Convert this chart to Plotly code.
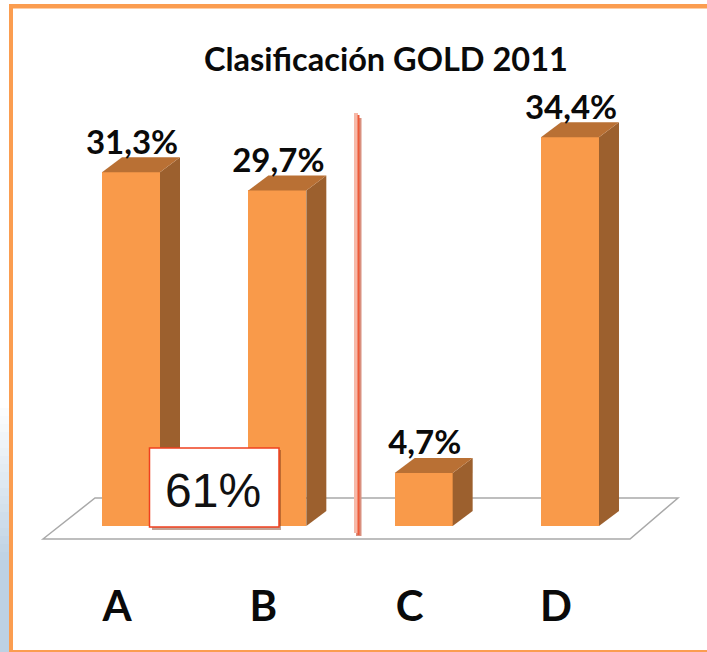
import plotly.graph_objects as go

# ---- data ----
categories = ["A", "B", "C", "D"]
values = [31.3, 29.7, 4.7, 34.4]
title_text = "Clasificación GOLD 2011"
group_text = "61%"

# ---- canvas / scale ----
W, H = 707, 652
PX_X = 146.33          # pixels per category
PX_Y = 11.3            # pixels per percentage point
X0 = 131               # pixel of first category
Y0 = 526               # pixel of value 0
AXIS_BOTTOM = 578      # pixel at the bottom of the plot area


def dx(px):
    return (px - X0) / PX_X


def dy(py):
    return (Y0 - py) / PX_Y


BAR_W = 58 / PX_X
DEPTH_X = 20 / PX_X
DEPTH_Y = 15 / PX_Y
LABEL_SHIFT = 14 / PX_X
LABEL_DROP = 4.5 / PX_Y

ORANGE = "#F99A4A"
SIDE = "#9C602E"
TOP = "#B97034"
BORDER = "#FB9D50"

fig = go.Figure()

# 3D side and top faces, derived from the values
for i, v in enumerate(values):
    l, r = i - BAR_W / 2, i + BAR_W / 2
    fig.add_trace(go.Scatter(
        x=[r, r + DEPTH_X, r + DEPTH_X, r, r],
        y=[0, DEPTH_Y, v + DEPTH_Y, v, 0],
        mode="lines", fill="toself", fillcolor=SIDE, line=dict(width=0),
        hoverinfo="skip", showlegend=False))
    fig.add_trace(go.Scatter(
        x=[l, l + DEPTH_X, r + DEPTH_X, r, l],
        y=[v, v + DEPTH_Y, v + DEPTH_Y, v, v],
        mode="lines", fill="toself", fillcolor=TOP, line=dict(width=0),
        hoverinfo="skip", showlegend=False))

# front faces
fig.add_trace(go.Bar(
    x=list(range(len(categories))), y=values, width=BAR_W,
    marker=dict(color=ORANGE, line=dict(width=0)),
    showlegend=False, hoverinfo="skip"))

# value labels
fig.add_trace(go.Scatter(
    x=[i + 1 / PX_X for i in range(len(values))],
    y=[v + DEPTH_Y - LABEL_DROP for v in values],
    mode="text",
    text=[f"{v:.1f}%".replace(".", ",") for v in values],
    textposition="top center",
    textfont=dict(family="Lato", size=33, color="#0a0a0a", weight="bold"),
    showlegend=False, hoverinfo="skip"))

shapes = []
# floor
shapes.append(dict(
    type="path", xref="x", yref="y", layer="below",
    path=f"M {dx(43)} {dy(539)} L {dx(95)} {dy(498)} L {dx(678)} {dy(498)} L {dx(630)} {dy(539)} Z",
    line=dict(color="#A9A9A9", width=1.5), fillcolor="white"))

# left gradient strip (paper coordinates): white, fading to pale blue low down
STEP = 8
for top in range(400, H, STEP):
    t = min(1.0, (top - 400) / 160)
    c = (int(255 - 66 * t), int(255 - 46 * t), int(255 - 28 * t))
    shapes.append(dict(
        type="rect", xref="paper", yref="paper", layer="below",
        x0=0, x1=9 / W, y0=1 - min(top + STEP, H) / H, y1=1 - top / H,
        fillcolor=f"rgb{c}", line=dict(width=0)))

# outer border: top, left, bottom
for x0, x1, y0, y1 in [(9, W, 4, 8.5), (9, 13, 4, H), (9, W, 650, H)]:
    shapes.append(dict(
        type="rect", xref="paper", yref="paper", layer="above",
        x0=x0 / W, x1=x1 / W, y0=1 - y1 / H, y1=1 - y0 / H,
        fillcolor=BORDER, line=dict(width=0)))

# divider
shapes.append(dict(type="rect", xref="x", yref="y", layer="above",
                   x0=dx(356), x1=dx(361.5), y0=dy(536), y1=dy(118),
                   fillcolor="#D9907F", line=dict(width=0)))
shapes.append(dict(type="rect", xref="x", yref="y", layer="above",
                   x0=dx(354), x1=dx(358), y0=dy(533), y1=dy(113),
                   fillcolor="#F7B9A8", line=dict(width=0)))
shapes.append(dict(type="rect", xref="x", yref="y", layer="above",
                   x0=dx(357.5), x1=dx(359.5), y0=dy(535), y1=dy(115),
                   fillcolor="#EE5A38", line=dict(width=0)))

# 61 % box with shadow
shapes.append(dict(type="rect", xref="x", yref="y", layer="above",
                   x0=dx(152), x1=dx(281), y0=dy(530), y1=dy(450),
                   fillcolor="rgba(120,50,20,0.45)", line=dict(width=0)))
shapes.append(dict(type="rect", xref="x", yref="y", layer="above",
                   x0=dx(149.5), x1=dx(279), y0=dy(527), y1=dy(448),
                   fillcolor="white", line=dict(color="#F0401F", width=1.5)))

fig.add_annotation(x=dx(212.5), y=dy(490), xref="x", yref="y", text=group_text,
                   showarrow=False, font=dict(family="Liberation Sans", size=48, color="#111111"))
fig.add_annotation(x=386.5 / W, y=1 - 58 / H, xref="paper", yref="paper", text=title_text,
                   xanchor="center", yanchor="middle", showarrow=False,
                   font=dict(family="Lato", size=32.5, color="#0a0a0a", weight="bold"))

fig.update_layout(
    width=W, height=H, margin=dict(l=0, r=0, t=0, b=0),
    paper_bgcolor="white", plot_bgcolor="rgba(0,0,0,0)",
    shapes=shapes, showlegend=False, bargap=0,
    xaxis=dict(range=[dx(0), dx(W)], tickmode="array",
               tickvals=[i - LABEL_SHIFT for i in range(len(categories))],
               ticktext=categories, showgrid=False, zeroline=False, showline=False,
               ticks="", tickfont=dict(family="Lato", size=42, color="#0a0a0a", weight="bold"),
               automargin=False, ticklabelstandoff=0),
    yaxis=dict(range=[dy(AXIS_BOTTOM), dy(0)], domain=[1 - AXIS_BOTTOM / H, 1],
               visible=False, showgrid=False, zeroline=False),
)

# the default page has an 8px body margin; remove it so the figure fills the window
fig.write_html("out.html", config=dict(displayModeBar=False),
               post_script="document.body.style.margin='0';document.documentElement.style.overflow='hidden';")
